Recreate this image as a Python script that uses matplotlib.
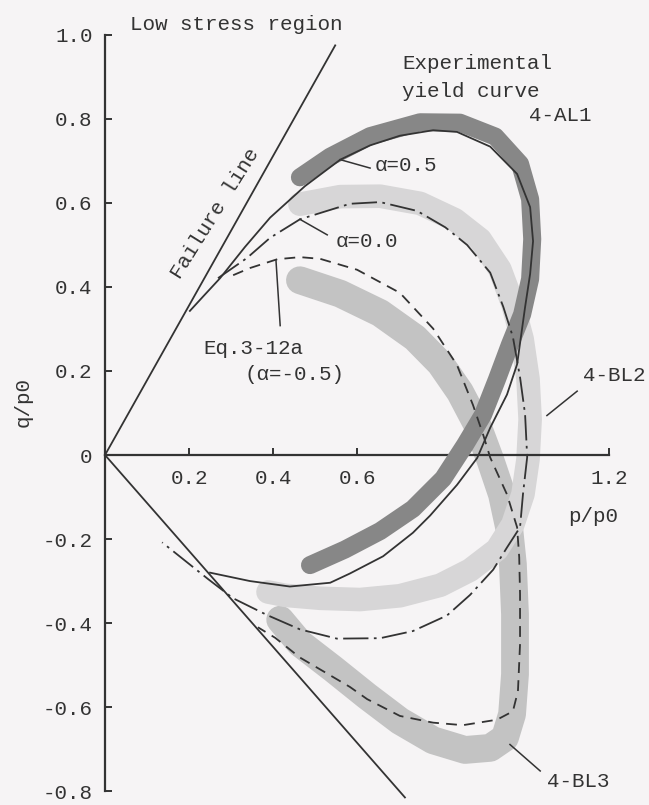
import matplotlib
matplotlib.use("Agg")
from matplotlib import pyplot as plt

# yield curves in the p/p0 - q/p0 plane

# failure lines (compression side / extension side)
fail_up_p = [0.0, 0.548]
fail_up_q = [0.0, 0.975]
fail_lo_p = [0.0, 0.714]
fail_lo_q = [0.0, -0.815]

# theoretical curve, alpha = 0.5 (solid)
a05_p = [0.202, 0.236, 0.274, 0.333, 0.393, 0.476, 0.560, 0.631, 0.702, 0.781,
         0.838, 0.917, 0.981, 1.012, 1.019, 1.012, 1.000, 0.981, 0.957, 0.917,
         0.886, 0.838, 0.774, 0.733, 0.662, 0.583, 0.536, 0.440, 0.345, 0.250]
a05_q = [0.343, 0.380, 0.421, 0.495, 0.565, 0.640, 0.703, 0.737, 0.760, 0.773,
         0.769, 0.734, 0.669, 0.590, 0.509, 0.431, 0.352, 0.216, 0.144, 0.065,
         -0.007, -0.071, -0.144, -0.185, -0.241, -0.282, -0.304, -0.313, -0.300, -0.280]

# theoretical curve, alpha = 0.0 (dash-dot)
a00_p = [0.269, 0.338, 0.393, 0.464, 0.583, 0.655, 0.743, 0.810, 0.862, 0.917,
         0.948, 0.971, 0.988, 1.000, 1.005, 0.995, 0.988, 0.957, 0.924, 0.869,
         0.814, 0.733, 0.655, 0.552, 0.464, 0.386, 0.305, 0.245, 0.136]
a00_q = [0.421, 0.469, 0.517, 0.561, 0.598, 0.602, 0.581, 0.542, 0.500, 0.434,
         0.353, 0.281, 0.185, 0.097, -0.005, -0.093, -0.172, -0.220, -0.273, -0.333,
         -0.382, -0.419, -0.436, -0.437, -0.415, -0.381, -0.341, -0.295, -0.208]

# Eq. 3-12a, alpha = -0.5 (dashed)
am05_p = [0.305, 0.345, 0.410, 0.464, 0.512, 0.600, 0.702, 0.781, 0.838, 0.876,
          0.900, 0.917, 0.957, 0.981, 0.986, 0.988, 0.988, 0.983, 0.971, 0.933,
          0.852, 0.781, 0.702, 0.624, 0.583, 0.464, 0.405, 0.364]
am05_q = [0.428, 0.445, 0.466, 0.471, 0.467, 0.441, 0.386, 0.301, 0.214, 0.119,
          0.049, -0.006, -0.094, -0.172, -0.243, -0.331, -0.450, -0.562, -0.610, -0.630,
          -0.643, -0.637, -0.621, -0.581, -0.552, -0.482, -0.435, -0.410]

# experimental yield curves (band centre lines)
al1_p = [0.464, 0.536, 0.631, 0.750, 0.845, 0.929, 0.988, 1.012, 1.017, 1.012,
         0.993, 0.964, 0.933, 0.900, 0.857, 0.805, 0.733, 0.655, 0.571, 0.488]
al1_q = [0.661, 0.710, 0.759, 0.792, 0.791, 0.758, 0.693, 0.609, 0.514, 0.419,
         0.335, 0.263, 0.180, 0.096, 0.024, -0.056, -0.128, -0.181, -0.225, -0.262]

bl2_p = [0.464, 0.560, 0.655, 0.750, 0.833, 0.893, 0.940, 0.971, 0.993, 1.007,
         1.012, 1.007, 0.995, 0.971, 0.933, 0.869, 0.798, 0.702, 0.607, 0.512,
         0.429, 0.388]
bl2_q = [0.597, 0.615, 0.616, 0.599, 0.560, 0.513, 0.442, 0.359, 0.276, 0.181,
         0.085, -0.010, -0.093, -0.165, -0.225, -0.274, -0.310, -0.335, -0.344, -0.341,
         -0.334, -0.326]

bl3_p = [0.464, 0.560, 0.655, 0.738, 0.798, 0.845, 0.886, 0.917, 0.945, 0.962,
         0.971, 0.976, 0.976, 0.969, 0.952, 0.917, 0.857, 0.781, 0.702, 0.624,
         0.543, 0.464, 0.417]
bl3_q = [0.416, 0.384, 0.338, 0.279, 0.218, 0.150, 0.072, -0.011, -0.094, -0.173,
         -0.260, -0.379, -0.522, -0.617, -0.673, -0.697, -0.702, -0.679, -0.633, -0.574,
         -0.509, -0.448, -0.392]

yticks = [1.0, 0.8, 0.6, 0.4, 0.2, 0.0, -0.2, -0.4, -0.6, -0.8]
ytick_labels = ["1.0", "0.8", "0.6", "0.4", "0.2", "0", "-0.2", "-0.4", "-0.6", "-0.8"]
xticks = [0.2, 0.4, 0.6, 1.2]
xtick_labels = ["0.2", "0.4", "0.6", "1.2"]

ink = "#333333"
paper = "#f6f4f5"
font = "Liberation Mono"
fs = 15

fig = plt.figure(figsize=(6.49, 8.05), dpi=100, facecolor=paper)
ax = fig.add_axes([0, 0, 1, 1])
ax.set_facecolor(paper)
ax.set_xlim(-0.25, 1.295)
ax.set_ylim(-0.833, 1.083)

# axes drawn through the origin
for side in ["top", "right"]:
    ax.spines[side].set_visible(False)
ax.spines["left"].set_position(("data", 0))
ax.spines["bottom"].set_position(("data", 0))
ax.spines["left"].set_bounds(-0.8, 1.0)
ax.spines["bottom"].set_bounds(0, 1.2)
for side in ["left", "bottom"]:
    ax.spines[side].set_linewidth(1.6)
    ax.spines[side].set_color(ink)
ax.set_yticks(yticks)
ax.set_yticklabels(ytick_labels)
ax.set_xticks(xticks)
ax.set_xticklabels(xtick_labels)
ax.tick_params(axis="both", direction="in", length=5, width=1.4, color=ink,
               labelcolor=ink, labelsize=fs)
ax.tick_params(axis="y", pad=9)
ax.tick_params(axis="x", pad=10)
for lab in ax.get_xticklabels() + ax.get_yticklabels():
    lab.set_fontfamily(font)

# experimental bands
ax.plot(bl3_p, bl3_q, color="#c3c3c3", lw=20, solid_capstyle="round", zorder=1)
ax.plot(bl2_p, bl2_q, color="#d7d6d7", lw=17, solid_capstyle="round", zorder=2)
ax.plot(al1_p, al1_q, color="#878787", lw=13, solid_capstyle="round", zorder=3)

# failure lines and theoretical curves
ax.plot(fail_up_p, fail_up_q, color=ink, lw=1.3, zorder=5)
ax.plot(fail_lo_p, fail_lo_q, color=ink, lw=1.3, zorder=5)
ax.plot(a05_p, a05_q, color=ink, lw=1.3, zorder=5)
ax.plot(a00_p, a00_q, color=ink, lw=1.3, ls=(0, (14, 3, 1.5, 3)), zorder=5)
ax.plot(am05_p, am05_q, color=ink, lw=1.3, ls=(0, (6, 4)), zorder=5)

# leaders
lk = dict(color=ink, lw=1.1, zorder=5)
ax.plot([0.560, 0.631], [0.703, 0.683], **lk)
ax.plot([0.464, 0.529], [0.561, 0.524], **lk)
ax.plot([0.407, 0.417], [0.463, 0.308], **lk)
ax.plot([1.052, 1.124], [0.094, 0.152], **lk)
ax.plot([0.964, 1.036], [-0.689, -0.752], **lk)

tk = dict(color=ink, fontsize=fs, fontfamily=font, va="center", ha="left", zorder=6)
ax.text(0.06, 1.024, "Low stress region", **tk)
ax.text(0.707, 0.931, "Experimental", **tk)
ax.text(0.707, 0.865, "yield curve", **tk)
ax.text(1.01, 0.807, "4-AL1", **tk)
ax.text(0.643, 0.688, "α=0.5", **tk)
ax.text(0.548, 0.508, "α=0.0", **tk)
ax.text(0.233, 0.253, "Eq.3-12a", **tk)
ax.text(0.333, 0.191, "(α=-0.5)", **tk)
ax.text(1.138, 0.19, "4-BL2", **tk)
ax.text(1.052, -0.778, "4-BL3", **tk)
ax.text(1.102, -0.147, "p/p0", **tk)
ax.text(-0.195, 0.126, "q/p0", color=ink, fontsize=fs, fontfamily=font,
        rotation=90, ha="center", va="center")
ax.text(0.262, 0.576, "Failure line", color=ink, fontsize=fs, fontfamily=font,
        rotation=58, rotation_mode="anchor", ha="center", va="center")

fig.savefig("out.png", dpi=100, facecolor=paper)
